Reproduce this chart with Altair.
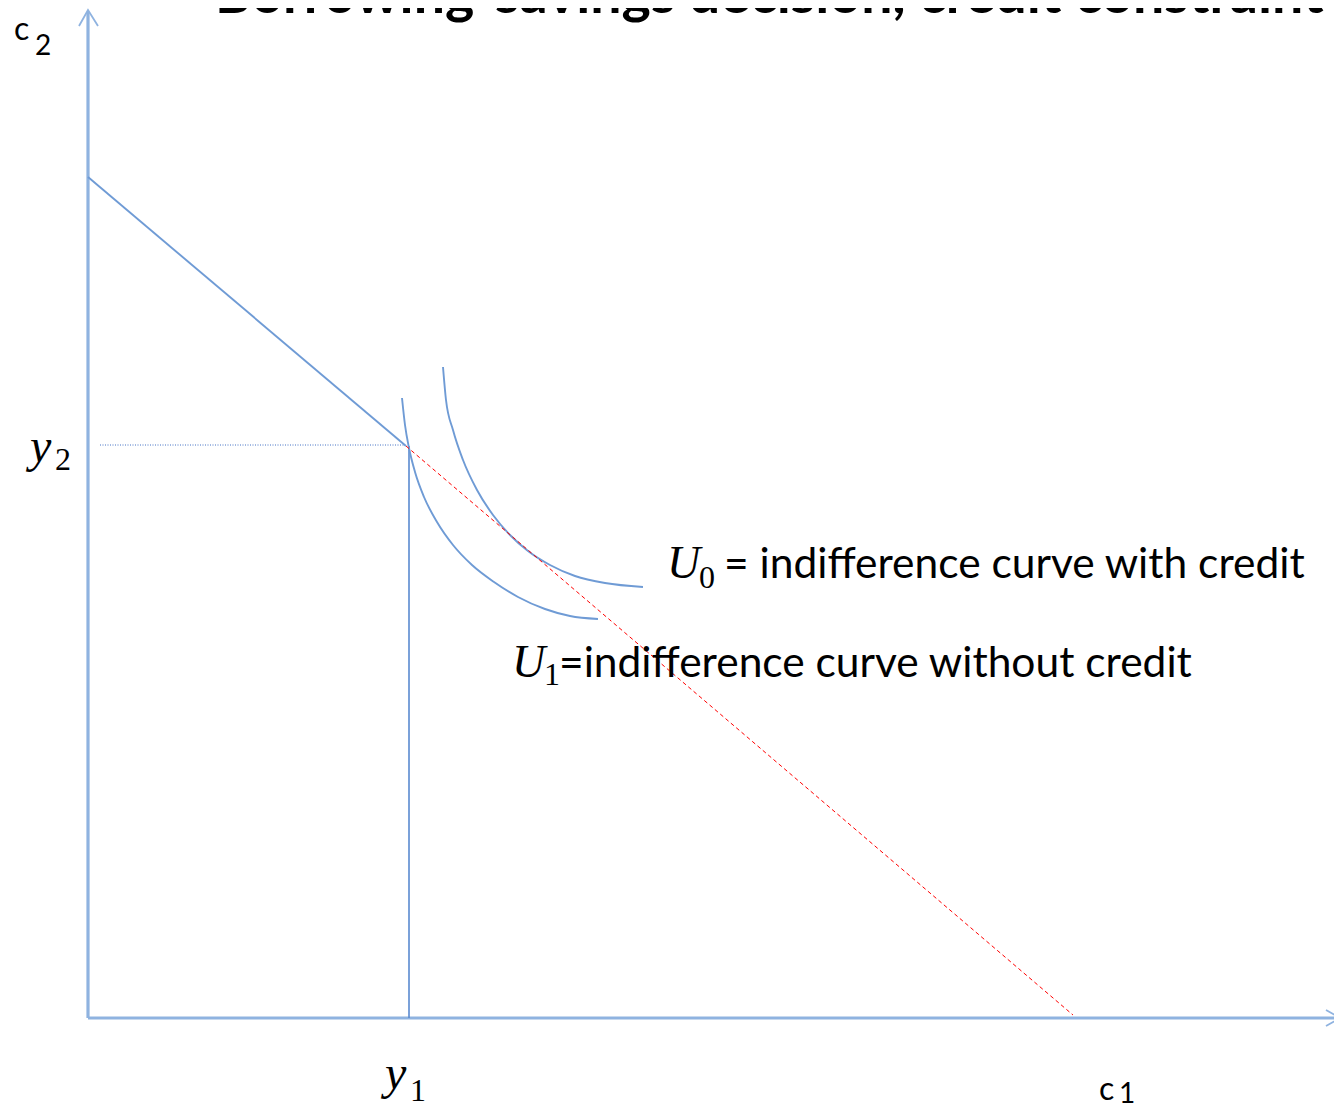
import altair as alt
import pandas as pd

# ---------------- data (units: c1, c2) ----------------
Y1 = 3.21          # first-period income
Y2 = 5.72          # second-period income
C2_MAX = 8.41      # budget line intercept on c2 axis
C1_MAX = 9.85      # budget line intercept on c1 axis (with credit)

budget_c1 = [0.0, 3.18]
budget_c2 = [C2_MAX, Y2]

credit_c1 = [3.18, C1_MAX]
credit_c2 = [Y2, 0.03]

u0_c1 = [3.55, 3.58, 3.65, 3.75, 3.89, 4.05, 4.22, 4.40, 4.62, 4.87, 5.17, 5.55]
u0_c2 = [6.51, 6.18, 5.88, 5.58, 5.28, 5.03, 4.83, 4.67, 4.53, 4.42, 4.35, 4.31]

u1_c1 = [3.14, 3.17, 3.21, 3.27, 3.36, 3.49, 3.65, 3.84, 4.06, 4.30, 4.57, 4.82, 5.10]
u1_c2 = [6.20, 5.93, 5.70, 5.46, 5.21, 4.96, 4.73, 4.53, 4.36, 4.21, 4.09, 4.02, 3.99]

AXIS_C1_END = 12.52
AXIS_C2_END = 10.06

TITLE = "Borrowing-savings decision, credit constraint"
U0_TEXT = "= indifference curve with credit"
U1_TEXT = "=indifference curve without credit"

# ---------------- layout ----------------
W, H = 1326, 1096
XDOM = [-0.80, 12.46]
YDOM = [-0.86, 10.10]

xs = alt.Scale(domain=XDOM, nice=False, zero=False)
ys = alt.Scale(domain=YDOM, nice=False, zero=False)


def frame(c1, c2, seg=0):
    return pd.DataFrame({"c1": c1, "c2": c2, "i": list(range(len(c1))), "seg": seg})


def line_layer(df, color, width, dash=None, interp=None):
    kw = dict(color=color, strokeWidth=width, clip=False)
    if dash is not None:
        kw["strokeDash"] = dash
    if interp is not None:
        kw["interpolate"] = interp
    return alt.Chart(df).mark_line(**kw).encode(
        x=alt.X("c1:Q", scale=xs, axis=None),
        y=alt.Y("c2:Q", scale=ys, axis=None),
        order="i:Q",
        detail="seg:N",
    )


def text_layer(df, font, size, style="normal", weight="normal", color="#000000"):
    return alt.Chart(df).mark_text(
        align="left", baseline="alphabetic", font=font, fontSize=size,
        fontStyle=style, fontWeight=weight, color=color,
    ).encode(
        x=alt.X("x:Q", scale=xs, axis=None),
        y=alt.Y("y:Q", scale=ys, axis=None),
        text="t:N",
    )


AXIS_COLOR = "#8fb3e0"
CURVE_COLOR = "#6f9bd5"

axes = pd.concat([
    frame([0, 0], [0, AXIS_C2_END], 0),
    frame([0, AXIS_C1_END], [0, 0], 1),
])
arrows = pd.concat([
    frame([-0.09, 0, 0.10], [AXIS_C2_END - 0.14, AXIS_C2_END + 0.02, AXIS_C2_END - 0.14], 0),
    frame([AXIS_C1_END - 0.14, AXIS_C1_END, AXIS_C1_END - 0.14], [0.08, 0, -0.08], 1),
])
budget = frame(budget_c1, budget_c2)
credit = frame(credit_c1, credit_c2)
u0 = frame(u0_c1, u0_c2)
u1 = frame(u1_c1, u1_c2)
vline = frame([Y1, Y1], [Y2, 0])
hline = frame([0.12, 3.17], [Y2 + 0.01, Y2 + 0.01])

layers = [
    line_layer(axes, AXIS_COLOR, 3.2),
    line_layer(arrows, AXIS_COLOR, 1.8),
    line_layer(hline, "#4472c4", 1, [1, 1.5]),
    line_layer(vline, "#5a8ad0", 1.6),
    line_layer(budget, CURVE_COLOR, 1.9),
    line_layer(u1, CURVE_COLOR, 1.9, interp="monotone"),
    line_layer(u0, CURVE_COLOR, 1.9, interp="monotone"),
    line_layer(credit, "#ff0000", 1, [4, 3]),
]

# math-italic letters
italic_y = pd.DataFrame({
    "x": [-0.58, Y1 - 0.24],
    "y": [Y2 - 0.16, -0.71],
    "t": ["y", "y"],
})
italic_u = pd.DataFrame({
    "x": [5.79, 4.24],
    "y": [4.40, 3.41],
    "t": ["U", "U"],
})
subs_serif = pd.DataFrame({
    "x": [-0.33, Y1 + 0.01, 6.11, 4.56],
    "y": [Y2 - 0.24, -0.83, 4.30, 3.33],
    "t": ["2", "1", "0", "1"],
})
axis_letters = pd.DataFrame({
    "x": [-0.74, 10.11],
    "y": [9.78, -0.82],
    "t": ["c", "c"],
})
axis_subs = pd.DataFrame({
    "x": [-0.53, 10.31],
    "y": [9.63, -0.85],
    "t": ["2", "1"],
})
legend_text = pd.DataFrame({
    "x": [6.36, 4.71],
    "y": [4.40, 3.41],
    "t": [U0_TEXT, U1_TEXT],
})
title_df = pd.DataFrame({"x": [1.27], "y": [10.05], "t": [TITLE]})

layers += [
    text_layer(italic_y, "Liberation Serif", 48, style="italic"),
    text_layer(italic_u, "Liberation Serif", 46, style="italic"),
    text_layer(subs_serif, "Liberation Serif", 32),
    text_layer(axis_letters, "Lato", 32),
    text_layer(axis_subs, "Lato", 28),
    text_layer(legend_text, "Lato", 42.5),
    text_layer(title_df, "Lato", 55.5, weight="bold"),
]

chart = alt.layer(*layers).properties(
    width=W, height=H, padding=0, background="white",
    autosize=alt.AutoSizeParams(type="none"),
).configure_view(stroke=None)

chart.save("out.html", embed_options={"renderer": "svg", "actions": False})
